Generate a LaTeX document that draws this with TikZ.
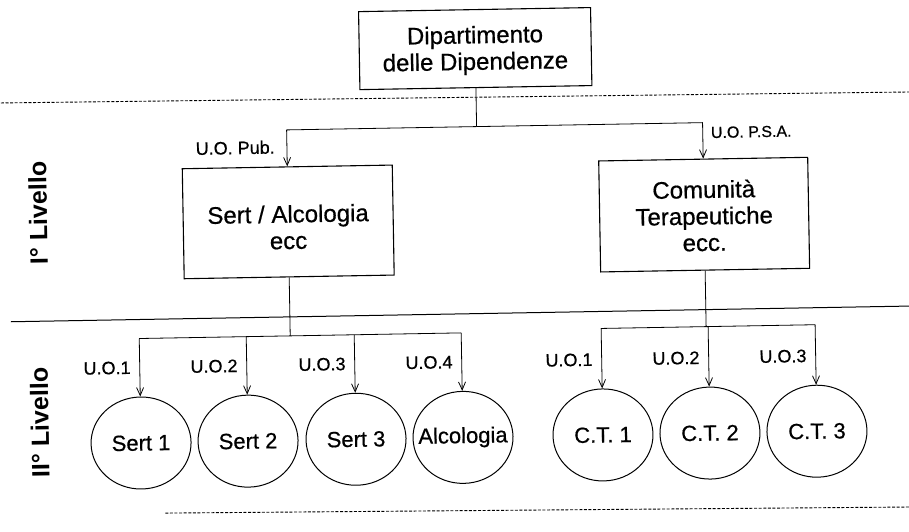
\documentclass[tikz,border=0pt]{standalone}
\usepackage{fontspec}
\setmainfont{Liberation Sans}
\newfontfamily\heavy{Liberation Sans}[FakeBold=0.6]
\usetikzlibrary{arrows.meta,shapes.geometric}
\begin{document}
\begin{tikzpicture}[x=1pt,y=-1pt,
  box/.style={draw,line width=1.1pt,align=center,inner sep=0pt,
    font=\heavy\fontsize{24}{26.5}\selectfont},
  unit/.style={draw,ellipse,line width=1pt,minimum width=100pt,
    minimum height=92pt,inner sep=0pt,font=\heavy\fontsize{22}{24}\selectfont},
  lab/.style={font=\heavy\fontsize{18}{20}\selectfont,inner sep=0pt},
  lvl/.style={font=\bfseries\fontsize{25}{28}\selectfont,rotate=90,inner sep=0pt},
  arr/.style={-{Straight Barb[length=8pt,width=7pt]},line width=0.8pt},
  link/.style={line width=0.8pt},
  sep/.style={line width=0.9pt,dash pattern=on 3pt off 1.6pt},
]
\fill[white] (0,0) rectangle (909,531);
\useasboundingbox (0,0) rectangle (909,531);
\begin{scope}[rotate around={1:(454,265)},transform shape]
  % level separators
  \draw[sep] (-10,95) -- (920,100);
  \draw[line width=1pt] (10,314) -- (920,314);
  \draw[sep] (161,508) -- (915,515);

  % level labels
  \node[lvl] (lv1) at (39,206) {I° Livello};
  \node[lvl] (lv2) at (37,415) {II° Livello};

  % department and first level
  \node[box,minimum width=232pt,minimum height=78pt] (dip) at (479,49)
    {\rule{0pt}{21pt}Dipartimento\\delle Dipendenze};
  \node[box,minimum width=210pt,minimum height=110pt] (sert) at (289,219)
    {\rule{0pt}{28pt}Sert / Alcologia\\ecc};
  \node[box,minimum width=209pt,minimum height=111pt] (ct) at (705,219)
    {\rule{0pt}{20pt}Comunità\\Terapeutiche\\ecc.};

  \coordinate (j0) at (479,127);
  \draw[link] (dip.south) -- (j0);
  \draw[arr] (j0) -| (sert.north);
  \draw[arr] (j0) -| (ct.north);
  \node[lab,anchor=east] (pub) at (277,144) {U.O. Pub.};
  \node[lab,anchor=west,font=\heavy\fontsize{16}{18}\selectfont] (psa) at (713,137) {U.O. P.S.A.};

  % second level units (text kept out of the ellipse sizing)
  \node[unit] (s1) at (138,437.5) {\makebox[0pt]{Sert 1}};
  \node[unit] (s2) at (245,437.5) {\makebox[0pt]{Sert 2}};
  \node[unit] (s3) at (353,437.5) {\makebox[0pt]{Sert 3}};
  \node[unit] (al) at (460,437.5) {\makebox[0pt]{Alcologia}};
  \node[unit] (c1) at (600,437.5) {\makebox[0pt]{C.T. 1}};
  \node[unit] (c2) at (707,437.5) {\makebox[0pt]{C.T. 2}};
  \node[unit] (c3) at (814,437.5) {\makebox[0pt]{C.T. 3}};

  \coordinate (j1) at (289,333);
  \draw[link] (sert.south) -- (j1);
  \draw[link] (s1.north |- j1) -- (al.north |- j1);
  \foreach \n in {s1,s2,s3,al}
    \draw[arr] (\n.north |- j1) -- (\n.north);

  \coordinate (j2) at (705,331);
  \draw[link] (ct.south) -- (j2);
  \draw[link] (c1.north |- j2) -- (c3.north |- j2);
  \foreach \n in {c1,c2,c3}
    \draw[arr] (\n.north |- j2) -- (\n.north);

  \foreach \n/\t in {s1/U.O.1,s2/U.O.2,s3/U.O.3,al/U.O.4,c1/U.O.1,c2/U.O.2,c3/U.O.3}
    \node[lab,anchor=east] (l\n) at ([xshift=-9pt]\n.north |- 0,362) {\t};
\end{scope}
\end{tikzpicture}
\end{document}
